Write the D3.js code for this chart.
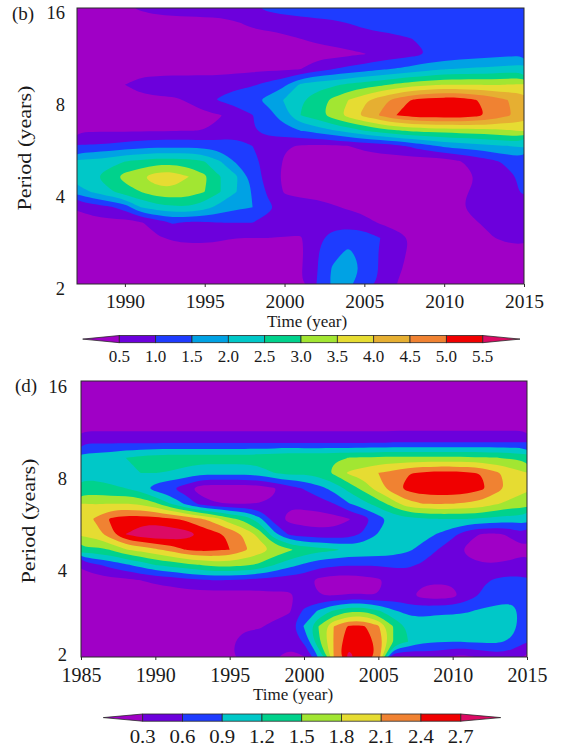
<!DOCTYPE html>
<html><head><meta charset="utf-8">
<script src="https://cdn.jsdelivr.net/npm/d3@7"></script>
<style>
body{margin:0;background:#fff}
text{font-family:"Liberation Serif","Times New Roman",serif;fill:#1a1a1a}
</style>
</head><body>
<svg id="chart" width="561" height="749"></svg>
<script>
// ---------- data ----------
const yearsB = [1987,1988,1989,1990,1991,1992,1993,1994,1995,1996,1997,1998,1999,2000,2001,2002,2003,2004,2005,2006,2007,2008,2009,2010,2011,2012,2013,2014,2015];
const yearsD = [1985,1986,1987,1988,1989,1990,1991,1992,1993,1994,1995,1996,1997,1998,1999,2000,2001,2002,2003,2004,2005,2006,2007,2008,2009,2010,2011,2012,2013,2014,2015];
// period rows (years), from 16 down to 2, 1/6 octave apart
const periods = [16,14.254,12.699,11.314,10.079,8.980,8,7.127,6.350,5.657,5.040,4.490,4,3.564,3.175,2.828,2.520,2.245,2];

// wavelet power, panel (b): one row per period, one value per year
const powerB = [
 [0.3,0.3,0.35,0.45,0.55,0.65,0.7,0.75,0.8,0.85,0.9,0.95,1.1,1.2,1.25,1.3,1.3,1.3,1.3,1.3,1.3,1.3,1.3,1.3,1.3,1.3,1.3,1.3,1.3],
 [0.3,0.3,0.3,0.3,0.3,0.3,0.3,0.3,0.3,0.3,0.45,0.6,0.7,0.75,0.8,0.85,0.9,1.0,1.1,1.2,1.25,1.3,1.3,1.3,1.3,1.3,1.3,1.3,1.3],
 [0.3,0.3,0.3,0.3,0.3,0.3,0.3,0.3,0.3,0.3,0.3,0.3,0.3,0.4,0.5,0.6,0.7,0.75,0.8,0.85,0.9,1.0,1.1,1.2,1.3,1.3,1.3,1.3,1.3],
 [0.3,0.3,0.3,0.3,0.3,0.3,0.3,0.3,0.3,0.3,0.3,0.3,0.3,0.3,0.3,0.3,0.3,0.4,0.48,0.65,0.75,0.85,1.0,1.1,1.2,1.25,1.3,1.35,1.45],
 [0.3,0.3,0.3,0.3,0.3,0.3,0.3,0.3,0.3,0.3,0.35,0.4,0.42,0.45,0.5,0.8,1.0,1.15,1.3,1.45,1.55,1.7,1.85,2.0,2.05,2.1,2.15,2.2,2.25],
 [0.3,0.3,0.35,0.5,0.7,0.75,0.8,0.8,0.8,0.85,0.9,0.95,1.15,1.4,2.1,2.3,2.4,2.6,2.75,2.9,3.1,3.3,3.4,3.5,3.5,3.5,3.45,3.5,3.55],
 [0.3,0.3,0.3,0.3,0.35,0.4,0.42,0.55,0.9,1.05,1.2,1.4,1.65,2.05,2.45,2.75,3.1,3.5,3.9,4.3,4.7,5.05,5.2,5.3,5.25,5.02,4.8,4.5,4.3],
 [0.3,0.3,0.3,0.3,0.3,0.3,0.3,0.3,0.35,0.48,0.75,0.98,1.3,1.8,2.5,2.8,3.25,3.7,4.15,4.55,5.0,5.2,5.3,5.3,5.3,5.15,4.9,4.55,4.35],
 [0.45,0.45,0.45,0.45,0.45,0.46,0.48,0.5,0.5,0.62,0.82,0.98,1.15,1.3,1.5,1.7,1.95,2.2,2.5,2.75,2.95,3.1,3.15,3.2,3.25,3.3,3.35,3.45,3.55],
 [1.05,1.05,1.1,1.2,1.3,1.35,1.35,1.35,1.3,1.25,1.15,1.0,0.75,0.55,0.45,0.4,0.42,0.5,0.6,0.7,0.85,1.1,1.35,1.6,1.7,1.8,1.9,2.0,2.1],
 [2.1,2.15,2.3,2.5,2.6,2.75,2.75,2.7,2.5,2.0,1.4,1.15,0.8,0.45,0.35,0.3,0.3,0.3,0.3,0.3,0.25,0.22,0.22,0.25,0.48,0.65,0.9,1.1,1.25],
 [2.4,2.45,2.75,3.2,3.48,3.8,3.85,3.5,3.1,2.5,2.05,1.3,0.75,0.4,0.3,0.3,0.3,0.3,0.3,0.3,0.3,0.3,0.3,0.3,0.3,0.5,0.75,0.9,1.1],
 [1.7,2.05,2.4,2.75,3.0,3.3,3.35,3.25,3.0,2.5,2.0,1.45,0.9,0.45,0.35,0.3,0.3,0.3,0.3,0.3,0.3,0.3,0.3,0.3,0.4,0.6,0.75,0.9,1.05],
 [0.55,0.7,0.9,1.2,2.0,2.3,2.4,2.45,2.2,1.8,1.6,1.5,1.1,0.8,0.75,0.7,0.55,0.45,0.35,0.3,0.3,0.3,0.3,0.3,0.48,0.6,0.7,0.75,0.8],
 [0.35,0.35,0.35,0.3,0.45,0.7,1.05,0.9,0.95,1.0,1.0,1.0,0.85,0.75,0.75,0.8,0.8,0.75,0.65,0.45,0.3,0.3,0.3,0.3,0.4,0.48,0.6,0.7,0.75],
 [0.3,0.3,0.3,0.3,0.3,0.45,0.55,0.6,0.6,0.55,0.5,0.5,0.5,0.48,0.45,0.85,1.2,1.35,1.3,1.0,0.7,0.45,0.3,0.3,0.3,0.3,0.48,0.6,0.65],
 [0.3,0.3,0.3,0.3,0.3,0.3,0.3,0.3,0.3,0.3,0.3,0.3,0.3,0.3,0.4,0.95,1.35,1.6,1.3,0.95,0.65,0.4,0.3,0.3,0.3,0.3,0.3,0.3,0.3],
 [0.3,0.3,0.3,0.3,0.3,0.3,0.3,0.3,0.3,0.3,0.3,0.3,0.3,0.3,0.45,0.95,1.55,1.75,1.4,0.95,0.6,0.35,0.3,0.3,0.3,0.3,0.3,0.3,0.3],
 [0.3,0.3,0.3,0.3,0.3,0.3,0.3,0.3,0.3,0.3,0.3,0.3,0.3,0.3,0.45,1.0,1.6,1.6,1.25,0.9,0.5,0.3,0.3,0.3,0.3,0.3,0.3,0.3,0.3]
];

// wavelet power, panel (d)
const powerD = [
 [0.15,0.15,0.15,0.15,0.15,0.15,0.15,0.15,0.15,0.15,0.15,0.15,0.15,0.15,0.15,0.15,0.15,0.15,0.15,0.15,0.15,0.15,0.15,0.15,0.15,0.15,0.15,0.15,0.15,0.15,0.15],
 [0.15,0.15,0.15,0.15,0.15,0.15,0.15,0.15,0.15,0.15,0.15,0.15,0.15,0.15,0.15,0.15,0.15,0.15,0.15,0.15,0.15,0.15,0.15,0.15,0.15,0.15,0.15,0.15,0.15,0.15,0.15],
 [0.15,0.15,0.15,0.15,0.15,0.15,0.15,0.15,0.15,0.15,0.15,0.15,0.15,0.15,0.15,0.15,0.15,0.15,0.15,0.15,0.15,0.15,0.15,0.15,0.15,0.15,0.15,0.15,0.15,0.15,0.15],
 [0.2,0.2,0.2,0.2,0.2,0.2,0.2,0.2,0.2,0.2,0.2,0.2,0.2,0.2,0.2,0.2,0.2,0.2,0.2,0.2,0.2,0.2,0.2,0.2,0.2,0.2,0.2,0.2,0.2,0.2,0.2],
 [0.56,0.56,0.56,0.56,0.56,0.56,0.56,0.56,0.56,0.56,0.56,0.56,0.56,0.56,0.56,0.56,0.56,0.56,0.56,0.56,0.56,0.6,0.6,0.6,0.6,0.6,0.6,0.6,0.6,0.6,0.6],
 [1.0,1.05,1.1,1.2,1.28,1.32,1.35,1.35,1.35,1.35,1.35,1.35,1.38,1.42,1.48,1.45,1.45,1.48,1.5,1.52,1.55,1.55,1.55,1.55,1.55,1.55,1.55,1.52,1.5,1.45,1.4],
 [1.1,1.12,1.15,1.18,1.2,1.2,1.18,1.1,1.0,1.0,1.0,1.0,1.05,1.2,1.3,1.25,1.35,1.55,1.85,1.95,2.1,2.2,2.38,2.45,2.5,2.5,2.45,2.38,2.15,1.95,1.8],
 [1.3,1.28,1.22,1.2,1.05,0.75,0.62,0.45,0.12,0.1,0.1,0.1,0.12,0.28,0.45,0.62,0.8,1.0,1.3,1.6,1.95,2.3,2.5,2.6,2.62,2.62,2.58,2.45,2.2,2.0,1.85],
 [1.8,1.78,1.8,1.8,1.75,1.55,1.2,0.85,0.5,0.32,0.3,0.3,0.3,0.32,0.35,0.38,0.45,0.6,0.88,1.1,1.35,1.65,2.0,2.1,2.12,2.1,2.05,2.0,1.82,1.7,1.65],
 [1.95,2.15,2.45,2.55,2.55,2.55,2.45,2.35,2.15,1.95,1.6,1.4,1.0,0.45,0.2,0.18,0.15,0.18,0.28,0.45,0.75,1.0,1.1,1.15,1.2,1.2,1.2,1.15,1.1,1.05,1.05],
 [1.85,1.95,2.3,2.7,2.9,2.95,2.92,2.85,2.68,2.5,2.35,2.05,1.7,1.0,0.55,0.45,0.42,0.4,0.45,0.65,0.92,1.05,1.05,1.0,0.88,0.68,0.38,0.27,0.25,0.35,0.55],
 [1.45,1.4,1.52,1.78,1.9,2.05,2.2,2.4,2.5,2.45,2.4,2.15,1.95,1.75,1.55,1.4,1.3,1.25,1.15,1.12,1.1,1.05,0.95,0.8,0.6,0.4,0.25,0.18,0.18,0.2,0.25],
 [0.35,0.55,0.7,0.85,1.0,1.2,1.3,1.4,1.5,1.6,1.6,1.55,1.45,1.2,1.0,0.85,0.7,0.65,0.62,0.62,0.62,0.65,0.65,0.55,0.45,0.38,0.35,0.32,0.32,0.35,0.4],
 [0.15,0.15,0.2,0.22,0.3,0.35,0.4,0.5,0.55,0.6,0.58,0.55,0.5,0.45,0.42,0.4,0.22,0.15,0.15,0.18,0.25,0.4,0.42,0.35,0.35,0.35,0.48,0.55,0.65,0.7,0.65],
 [0.15,0.15,0.15,0.15,0.15,0.15,0.15,0.15,0.15,0.15,0.15,0.18,0.2,0.25,0.25,0.4,0.3,0.3,0.32,0.32,0.3,0.4,0.35,0.2,0.15,0.2,0.45,0.65,0.75,0.8,0.75],
 [0.15,0.15,0.15,0.15,0.15,0.15,0.15,0.15,0.15,0.15,0.15,0.15,0.18,0.22,0.25,0.65,0.95,1.25,1.45,1.45,1.25,0.95,0.8,0.8,0.85,0.85,0.88,0.95,1.0,1.0,0.72],
 [0.15,0.15,0.15,0.15,0.15,0.15,0.15,0.15,0.15,0.15,0.22,0.28,0.28,0.35,0.5,0.92,1.52,2.1,2.45,2.45,2.15,1.5,1.15,1.05,1.05,1.05,1.05,1.05,1.05,1.0,0.7],
 [0.15,0.15,0.15,0.15,0.15,0.15,0.15,0.15,0.15,0.2,0.28,0.35,0.38,0.35,0.35,0.65,1.45,2.12,2.6,2.5,2.35,1.5,1.2,0.95,0.92,0.9,0.92,0.95,0.95,0.85,0.6],
 [0.15,0.15,0.15,0.15,0.15,0.15,0.15,0.15,0.15,0.15,0.28,0.35,0.35,0.32,0.25,0.28,0.9,2.1,2.8,2.55,2.35,0.3,0.25,0.4,0.38,0.25,0.22,0.35,0.45,0.4,0.25]
];

const levelsB = [0.5,1.0,1.5,2.0,2.5,3.0,3.5,4.0,4.5,5.0,5.5];
const levelsD = [0.3,0.6,0.9,1.2,1.5,1.8,2.1,2.4,2.7];
const colorsB = ["#a000c6","#6c00dc","#1e3cff","#00a2e4","#00c8c8","#00d28c","#a2e632","#e6dc32","#e6af32","#f08232","#f00000","#dc0a64"];
const colorsD = ["#a000c6","#6c00dc","#1e3cff","#00c8c8","#00d28c","#a2e632","#e6dc32","#f08232","#f00000","#dc0a64"];
const xTicksB = [1990,1995,2000,2005,2010,2015];
const xTicksD = [1985,1990,1995,2000,2005,2010,2015];
const yTicks = [16,8,4,2];

// ---------- drawing ----------
const svg = d3.select("#chart");
const FONT = "Liberation Serif, Times New Roman, serif";

function panel(cfg){
  const n = cfg.years.length, m = periods.length;
  const x = d3.scaleLinear().domain([cfg.years[0], cfg.years[n-1]]).range([cfg.left, cfg.right]);
  const y = d3.scaleLog().base(2).domain([2,16]).range([cfg.bottom, cfg.top]);
  const gx = d3.scaleLinear().domain([0.5, n-0.5]).range([x(cfg.years[0]), x(cfg.years[n-1])]);
  const gy = d3.scaleLinear().domain([0.5, m-0.5]).range([y(periods[0]), y(periods[m-1])]);
  const g = svg.append("g");
  const cid = "clip" + cfg.id;
  svg.append("clipPath").attr("id", cid).append("rect")
    .attr("x", cfg.left).attr("y", cfg.top)
    .attr("width", cfg.right-cfg.left).attr("height", cfg.bottom-cfg.top);
  const plot = g.append("g").attr("clip-path", `url(#${cid})`);
  plot.append("rect").attr("x", cfg.left).attr("y", cfg.top)
    .attr("width", cfg.right-cfg.left).attr("height", cfg.bottom-cfg.top)
    .attr("fill", cfg.colors[0]);
  const values = cfg.grid.flat();
  const cs = d3.contours().size([n,m]).thresholds(cfg.levels)(values);
  const line = d3.line().x(p=>gx(p[0])).y(p=>gy(p[1])).curve(d3.curveBasisClosed);
  cs.forEach((c,i)=>{
    const d = c.coordinates.map(poly=>poly.map(ring=>line(ring.slice(0,-1))).join("")).join("");
    if(d) plot.append("path").attr("d", d).attr("fill", cfg.colors[i+1]).attr("fill-rule","evenodd");
  });
  // frame
  g.append("rect").attr("x", cfg.left).attr("y", cfg.top)
    .attr("width", cfg.right-cfg.left).attr("height", cfg.bottom-cfg.top)
    .attr("fill","none").attr("stroke","#2a2a2a").attr("stroke-width",1);
  // x axis
  const ax = g.append("g").attr("transform", `translate(0,${cfg.bottom})`)
    .call(d3.axisBottom(x).tickValues(cfg.xTicks).tickSize(3).tickPadding(cfg.xPad).tickFormat(d3.format("d")));
  ax.select(".domain").remove();
  ax.selectAll("line").attr("stroke","#2a2a2a");
  ax.selectAll("text").attr("font-family",FONT).attr("font-size",cfg.xFont).attr("fill","#1a1a1a");
  // y axis
  const ay = g.append("g").attr("transform", `translate(${cfg.left},0)`)
    .call(d3.axisLeft(y).tickValues(yTicks).tickSize(0).tickPadding(cfg.yPad).tickFormat(d3.format("d")));
  ay.select(".domain").remove();
  ay.selectAll("text").attr("font-family",FONT).attr("font-size",18.5)
    .attr("dy", d => cfg.yDy(d)).attr("fill","#1a1a1a");
  // labels
  svg.append("text").attr("x", cfg.tagX).attr("y", cfg.tagY).attr("font-size",19).text(cfg.tag);
  svg.append("text").attr("transform", `translate(${cfg.ylabX},${(cfg.top+cfg.bottom)/2+2}) rotate(-90)`)
    .attr("text-anchor","middle").attr("font-size",18).attr("textLength",125).attr("lengthAdjust","spacingAndGlyphs")
    .text("Period (years)");
  svg.append("text").attr("x", cfg.xlabX).attr("y", cfg.xlabY).attr("text-anchor","middle")
    .attr("font-size",17).text("Time (year)");
}

function colorbar(cfg){
  const k = cfg.levels.length - 1;
  const w = (cfg.x1 - cfg.x0)/k;
  const g = svg.append("g");
  const ym = cfg.y + cfg.h/2;
  g.append("path").attr("d", `M${cfg.x0},${cfg.y}L${cfg.tipL},${ym}L${cfg.x0},${cfg.y+cfg.h}Z`)
    .attr("fill", cfg.colors[0]).attr("stroke","#2a2a2a").attr("stroke-width",0.8);
  g.append("path").attr("d", `M${cfg.x1},${cfg.y}L${cfg.tipR},${ym}L${cfg.x1},${cfg.y+cfg.h}Z`)
    .attr("fill", cfg.colors[k+1]).attr("stroke","#2a2a2a").attr("stroke-width",0.8);
  for(let i=0;i<k;i++){
    g.append("rect").attr("x", cfg.x0 + i*w).attr("y", cfg.y).attr("width", w).attr("height", cfg.h)
      .attr("fill", cfg.colors[i+1]).attr("stroke","#2a2a2a").attr("stroke-width",0.8);
  }
  cfg.levels.forEach((v,i)=>{
    const t = g.append("text").attr("x", cfg.x0 + i*w).attr("y", cfg.labY).attr("text-anchor","middle")
      .attr("font-size", cfg.font).text(d3.format(".1f")(v));
    if(cfg.tl) t.attr("textLength", cfg.tl).attr("lengthAdjust","spacingAndGlyphs");
  });
}

panel({id:"b", years:yearsB, grid:powerB, levels:levelsB, colors:colorsB,
  left:77, right:524, top:8, bottom:284, xTicks:xTicksB, xPad:7, xFont:19.5, yPad:12,
  yDy: d => "0.58em",
  tag:"(b)", tagX:12, tagY:20, ylabX:31, xlabX:307, xlabY:327});
colorbar({levels:levelsB, colors:colorsB, x0:119.3, x1:482.7, y:335.5, h:7.2, tipL:82.7, tipR:520,
  labY:361.5, font:17});

panel({id:"d", years:yearsD, grid:powerD, levels:levelsD, colors:colorsD,
  left:81, right:527, top:381, bottom:657, xTicks:xTicksD, xPad:8, xFont:20, yPad:14,
  yDy: d => d === 2 ? "0.2em" : "0.6em",
  tag:"(d)", tagX:15, tagY:392, ylabX:35, xlabX:293, xlabY:700});
colorbar({levels:levelsD, colors:colorsD, x0:142.7, x1:460.7, y:714, h:7.2, tipL:103.3, tipR:500.7,
  labY:743, font:18, tl:26});
</script>
</body></html>
